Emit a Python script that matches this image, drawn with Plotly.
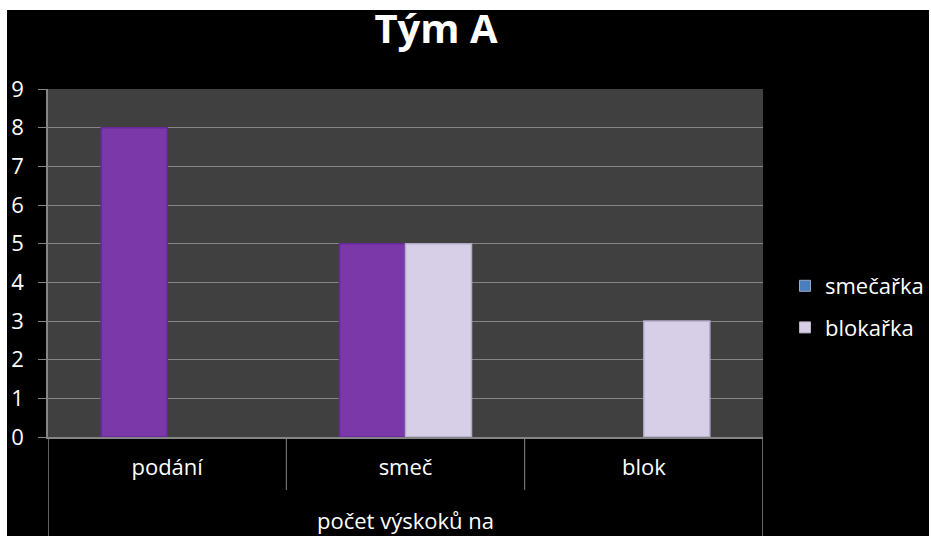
import plotly.graph_objects as go

# Data
categories = ["podání", "smeč", "blok"]
series_names = ["smečařka", "blokařka"]
smecarka = [8, 5, 0]
blokarka = [0, 5, 3]
y_ticks = list(range(0, 10))

# Styling
W, H = 931, 536
ML, MR, MT, MB = 48, 168, 89, 99
PW, PH = W - ML - MR, H - MT - MB
FONT = "Open Sans"
GRID = "#858585"
bar_colors = ["#7A38A9", "#D7CFE7"]
bar_edges = ["#66289A", "#B5ABC9"]
legend_colors = ["#4B7EBD", "#D7CFE7"]


def px_x(x):
    return (x - ML) / PW


def px_y(y):
    return (H - MB - y) / PH


fig = go.Figure()

for name, vals, col, edge in zip(series_names, [smecarka, blokarka], bar_colors, bar_edges):
    fig.add_trace(go.Bar(
        x=categories, y=vals, name=name, showlegend=False,
        marker=dict(color=col,
                    line=dict(color=edge, width=[1.5 if v > 0 else 0 for v in vals])),
    ))

# legend entries
for i, (name, col) in enumerate(zip(series_names, legend_colors)):
    fig.add_trace(go.Scatter(
        x=[None], y=[None], mode="markers", name=name, legendgroup=f"g{i}",
        marker=dict(symbol="square", size=11, color=col,
                    line=dict(color="#9aa8c8" if i == 0 else "#b8b0c8", width=1)),
    ))

shapes = []
# category separators below the axis
for xv in [0.5, 1.5]:
    shapes.append(dict(type="line", xref="x", yref="paper", x0=xv, x1=xv,
                       y0=0, y1=px_y(H - MB + 53), line=dict(color=GRID, width=1)))
# outer frame lines of the category area
for xv in [-0.5, 2.5]:
    shapes.append(dict(type="line", xref="x", yref="paper", x0=xv, x1=xv,
                       y0=0, y1=px_y(H + 2), line=dict(color=GRID, width=1.5)))
# white borders of the picture
shapes.append(dict(type="rect", xref="paper", yref="paper", layer="above",
                   x0=px_x(-5), x1=px_x(W + 5), y0=px_y(10), y1=px_y(-5),
                   fillcolor="white", line=dict(width=0)))
shapes.append(dict(type="rect", xref="paper", yref="paper", layer="above",
                   x0=px_x(-5), x1=px_x(7), y0=px_y(H + 5), y1=px_y(-5),
                   fillcolor="white", line=dict(width=0)))
shapes.append(dict(type="rect", xref="paper", yref="paper", layer="above",
                   x0=px_x(929), x1=px_x(W + 5), y0=px_y(H + 5), y1=px_y(-5),
                   fillcolor="white", line=dict(width=0)))

fig.update_layout(
    width=W, height=H,
    margin=dict(l=ML, r=MR, t=MT, b=MB, pad=0, autoexpand=False),
    paper_bgcolor="black",
    plot_bgcolor="#404040",
    font=dict(family=FONT, color="white", size=22),
    title=dict(text="<b>Tým A</b>", x=436 / W, xanchor="center",
               y=1 - 29 / H, yanchor="middle", yref="container",
               font=dict(family=FONT, size=40, color="white")),
    barmode="group", bargap=0.446, bargroupgap=0,
    showlegend=True,
    legend=dict(x=px_x(785), xanchor="left", y=px_y(307), yanchor="middle",
                bgcolor="rgba(0,0,0,0)", tracegroupgap=10,
                font=dict(family=FONT, size=22, color="white")),
    shapes=shapes,
    xaxis=dict(
        type="category", range=[-0.5, 2.5], showgrid=False,
        showline=True, linecolor=GRID, linewidth=1.5,
        ticks="", ticklabelstandoff=10,
        tickfont=dict(family=FONT, size=22, color="white"),
        title=dict(text="počet výskoků na", standoff=33,
                   font=dict(family=FONT, size=22, color="white")),
    ),
    yaxis=dict(
        range=[0, 9], tickvals=y_ticks, showgrid=True, gridcolor=GRID, gridwidth=1,
        showline=True, linecolor=GRID, linewidth=1.5,
        ticks="outside", ticklen=8, tickcolor=GRID, tickwidth=1,
        ticklabelstandoff=10,
        tickfont=dict(family=FONT, size=22, color="white"),
        zeroline=False,
    ),
)

fig.write_html("out.html")
